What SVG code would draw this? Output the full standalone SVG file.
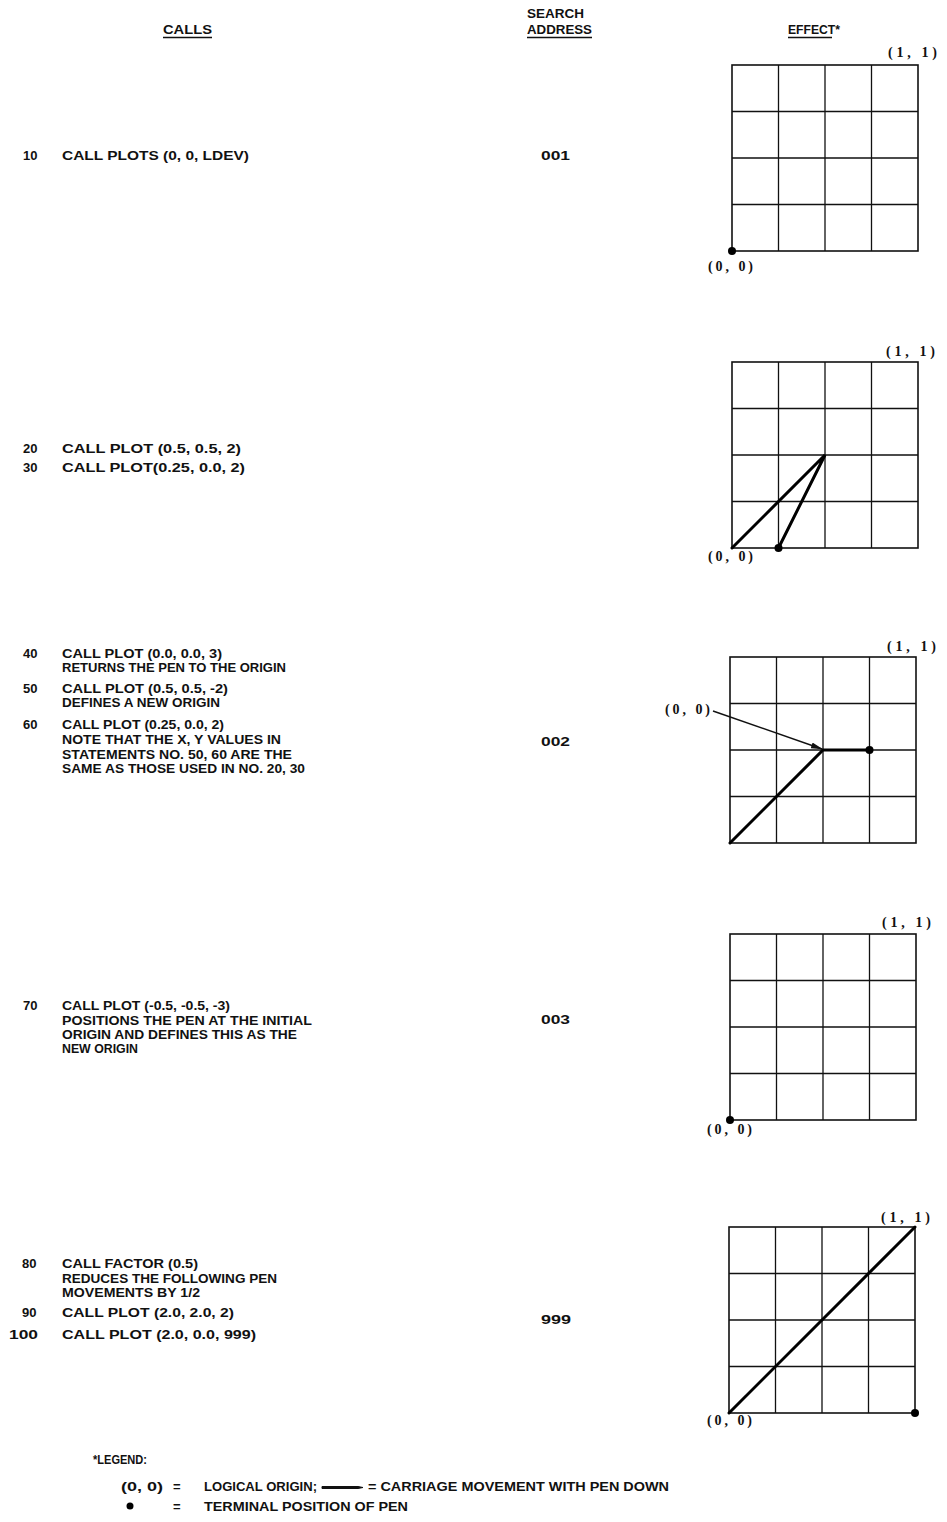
<svg xmlns="http://www.w3.org/2000/svg" xmlns:xlink="http://www.w3.org/1999/xlink" width="947" height="1522" viewBox="0 0 947 1522">
<style>
.t{font-family:"Liberation Sans","DejaVu Sans",sans-serif;font-weight:bold;font-size:13px;fill:#111}
.h{font-family:"Liberation Sans","DejaVu Sans",sans-serif;font-weight:bold;font-size:12px;fill:#111}
.m{font-family:"Liberation Serif","DejaVu Serif",serif;font-weight:bold;font-size:14px;fill:#111}
.ul{stroke:#111;stroke-width:1.3}
.gl{stroke:#111;stroke-width:1.3;fill:none}
.gf{stroke:#111;stroke-width:1.6;fill:none}
.pen{stroke:#000;stroke-width:3;fill:none;stroke-linecap:round}
.dot{fill:#000}
.arr{stroke:#111;stroke-width:1.4;fill:none}
</style>
<defs>
<g id="grid">
<rect class="gf" x="0" y="0" width="186" height="186"/>
<path class="gl" d="M46.5 0V186M93 0V186M139.5 0V186M0 46.5H186M0 93H186M0 139.5H186"/>
</g>
<marker id="ah" markerWidth="12" markerHeight="6" refX="11" refY="3" orient="auto" markerUnits="userSpaceOnUse">
<path d="M0 0L12 3L0 6Z" fill="#111"/>
</marker>
</defs>
<rect width="947" height="1522" fill="#fff"/>

<g id="header">
<text class="h" x="163" y="34" textLength="49" lengthAdjust="spacingAndGlyphs">CALLS</text>
<line class="ul" x1="163" y1="37.5" x2="212" y2="37.5"/>
<text class="h" x="527" y="18" textLength="57" lengthAdjust="spacingAndGlyphs">SEARCH</text>
<text class="h" x="527" y="34" textLength="65" lengthAdjust="spacingAndGlyphs">ADDRESS</text>
<line class="ul" x1="527" y1="37.5" x2="592" y2="37.5"/>
<text class="h" x="788" y="34" textLength="52" lengthAdjust="spacingAndGlyphs">EFFECT*</text>
<line class="ul" x1="788" y1="37.5" x2="832" y2="37.5"/>
</g>

<g id="call-10">
<text class="t" x="23" y="160">10</text>
<text class="t" x="62" y="160" textLength="187" lengthAdjust="spacingAndGlyphs">CALL PLOTS (0, 0, LDEV)</text>
</g>
<g id="addr-001"><text class="t" x="541" y="160" textLength="29" lengthAdjust="spacingAndGlyphs">001</text></g>

<g id="call-20-30">
<text class="t" x="23" y="453">20</text>
<text class="t" x="62" y="453" textLength="179" lengthAdjust="spacingAndGlyphs">CALL PLOT (0.5, 0.5, 2)</text>
<text class="t" x="23" y="472">30</text>
<text class="t" x="62" y="472" textLength="183" lengthAdjust="spacingAndGlyphs">CALL PLOT(0.25, 0.0, 2)</text>
</g>

<g id="call-40-60">
<text class="t" x="23" y="658">40</text>
<text class="t" x="62" y="658" textLength="160" lengthAdjust="spacingAndGlyphs">CALL PLOT (0.0, 0.0, 3)</text>
<text class="t" x="62" y="672" textLength="224" lengthAdjust="spacingAndGlyphs">RETURNS THE PEN TO THE ORIGIN</text>
<text class="t" x="23" y="693">50</text>
<text class="t" x="62" y="693" textLength="166" lengthAdjust="spacingAndGlyphs">CALL PLOT (0.5, 0.5, -2)</text>
<text class="t" x="62" y="707" textLength="158" lengthAdjust="spacingAndGlyphs">DEFINES A NEW ORIGIN</text>
<text class="t" x="23" y="729">60</text>
<text class="t" x="62" y="729" textLength="162" lengthAdjust="spacingAndGlyphs">CALL PLOT (0.25, 0.0, 2)</text>
<text class="t" x="62" y="744" textLength="219" lengthAdjust="spacingAndGlyphs">NOTE THAT THE X, Y VALUES IN</text>
<text class="t" x="62" y="759" textLength="230" lengthAdjust="spacingAndGlyphs">STATEMENTS NO. 50, 60 ARE THE</text>
<text class="t" x="62" y="773" textLength="243" lengthAdjust="spacingAndGlyphs">SAME AS THOSE USED IN NO. 20, 30</text>
</g>
<g id="addr-002"><text class="t" x="541" y="746" textLength="29" lengthAdjust="spacingAndGlyphs">002</text></g>

<g id="call-70">
<text class="t" x="23" y="1010">70</text>
<text class="t" x="62" y="1010" textLength="168" lengthAdjust="spacingAndGlyphs">CALL PLOT (-0.5, -0.5, -3)</text>
<text class="t" x="62" y="1025" textLength="250" lengthAdjust="spacingAndGlyphs">POSITIONS THE PEN AT THE INITIAL</text>
<text class="t" x="62" y="1039" textLength="235" lengthAdjust="spacingAndGlyphs">ORIGIN AND DEFINES THIS AS THE</text>
<text class="t" x="62" y="1053" textLength="76" lengthAdjust="spacingAndGlyphs">NEW ORIGIN</text>
</g>
<g id="addr-003"><text class="t" x="541" y="1024" textLength="29" lengthAdjust="spacingAndGlyphs">003</text></g>

<g id="call-80-100">
<text class="t" x="22" y="1268">80</text>
<text class="t" x="62" y="1268" textLength="136" lengthAdjust="spacingAndGlyphs">CALL FACTOR (0.5)</text>
<text class="t" x="62" y="1283" textLength="215" lengthAdjust="spacingAndGlyphs">REDUCES THE FOLLOWING PEN</text>
<text class="t" x="62" y="1297" textLength="138" lengthAdjust="spacingAndGlyphs">MOVEMENTS BY 1/2</text>
<text class="t" x="22" y="1317">90</text>
<text class="t" x="62" y="1317" textLength="172" lengthAdjust="spacingAndGlyphs">CALL PLOT (2.0, 2.0, 2)</text>
<text class="t" x="9" y="1339" textLength="29" lengthAdjust="spacingAndGlyphs">100</text>
<text class="t" x="62" y="1339" textLength="194" lengthAdjust="spacingAndGlyphs">CALL PLOT (2.0, 0.0, 999)</text>
</g>
<g id="addr-999"><text class="t" x="541" y="1324" textLength="30" lengthAdjust="spacingAndGlyphs">999</text></g>

<g id="effect-1">
<use xlink:href="#grid" x="732" y="65"/>
<circle class="dot" cx="732" cy="251" r="4"/>
<text class="m" x="888" y="57" textLength="49" lengthAdjust="spacing">(1, 1)</text>
<text class="m" x="708" y="271" textLength="45" lengthAdjust="spacing">(0, 0)</text>
</g>

<g id="effect-2">
<use xlink:href="#grid" x="732" y="362"/>
<polyline class="pen" points="732,548 825,455 778.5,548"/>
<circle class="dot" cx="778.5" cy="548" r="4"/>
<text class="m" x="886" y="356" textLength="49" lengthAdjust="spacing">(1, 1)</text>
<text class="m" x="708" y="561" textLength="45" lengthAdjust="spacing">(0, 0)</text>
</g>

<g id="effect-3">
<use xlink:href="#grid" x="730" y="657"/>
<polyline class="pen" points="730,843 823,750 869.5,750"/>
<circle class="dot" cx="869.5" cy="750" r="4"/>
<text class="m" x="887" y="651" textLength="49" lengthAdjust="spacing">(1, 1)</text>
<text class="m" x="665" y="714" textLength="45" lengthAdjust="spacing">(0, 0)</text>
</g>

<g id="effect-4">
<use xlink:href="#grid" x="730" y="934"/>
<circle class="dot" cx="730" cy="1120" r="4"/>
<text class="m" x="882" y="927" textLength="49" lengthAdjust="spacing">(1, 1)</text>
<text class="m" x="707" y="1134" textLength="45" lengthAdjust="spacing">(0, 0)</text>
</g>

<g id="effect-5">
<use xlink:href="#grid" x="729" y="1227"/>
<line class="pen" x1="729" y1="1413" x2="915" y2="1227"/>
<circle class="dot" cx="915" cy="1413" r="4"/>
<text class="m" x="881" y="1222" textLength="49" lengthAdjust="spacing">(1, 1)</text>
<text class="m" x="707" y="1425" textLength="45" lengthAdjust="spacing">(0, 0)</text>
</g>

<g id="connectors">
<line class="arr" x1="713" y1="711" x2="822" y2="749" marker-end="url(#ah)"/>
</g>

<g id="legend">
<text class="t" x="93" y="1464" textLength="54" lengthAdjust="spacingAndGlyphs">*LEGEND:</text>
<text class="t" x="121" y="1491" textLength="42" lengthAdjust="spacingAndGlyphs">(0, 0)</text>
<text class="t" x="173" y="1491">=</text>
<text class="t" x="204" y="1491" textLength="113" lengthAdjust="spacingAndGlyphs">LOGICAL ORIGIN;</text>
<path d="M322 1486.5H358L363 1487.5L358 1488.5H322Z" fill="#111" stroke="#111" stroke-width="1"/>
<text class="t" x="368" y="1491" textLength="301" lengthAdjust="spacingAndGlyphs">= CARRIAGE MOVEMENT WITH PEN DOWN</text>
<circle class="dot" cx="130" cy="1506" r="3.5"/>
<text class="t" x="173" y="1511">=</text>
<text class="t" x="204" y="1511" textLength="204" lengthAdjust="spacingAndGlyphs">TERMINAL POSITION OF PEN</text>
</g>
</svg>
